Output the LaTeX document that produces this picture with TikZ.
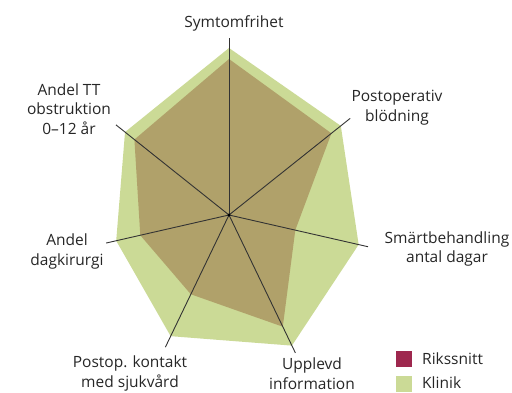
\documentclass[tikz,border=0pt]{standalone}
\usepackage{fontspec}
\setmainfont{Open Sans}
\usetikzlibrary{calc}
\begin{document}
\begin{tikzpicture}[x=1pt,y=1pt,
  axisline/.style={draw=black!80, line width=0.9pt},
  klinikfill/.style={fill=klinik},
  riksfill/.style={fill=riks},
  lbl/.style={align=center, text=black!85, font=\fontsize{15.5}{19.5}\selectfont, inner sep=0pt},
  legtext/.style={anchor=west, text=black!85, font=\fontsize{15.5}{19.5}\selectfont, inner sep=0pt},
  legbox/.style={minimum size=16pt, inner sep=0pt, anchor=south west}]
\definecolor{klinik}{RGB}{203,218,150}
\definecolor{riks}{RGB}{176,161,106}
\definecolor{rikssq}{RGB}{158,40,78}
\useasboundingbox (0,0) rectangle (512,393);
\clip (0,0) rectangle (512,393);
\coordinate (O) at (229,178);
% clinic polygon
\path[klinikfill] ($(O)+(90:167)$) -- ($(O)+(38.57:143)$) -- ($(O)+(-12.86:133)$)
  -- ($(O)+(-64.29:145)$) -- ($(O)+(-115.71:134.5)$) -- ($(O)+(-167.14:115.7)$)
  -- ($(O)+(141.43:133)$) -- cycle;
% national average polygon
\path[riksfill] ($(O)+(90:156)$) -- ($(O)+(38.57:131)$) -- ($(O)+(-12.86:68)$)
  -- ($(O)+(-64.29:124)$) -- ($(O)+(-115.71:88)$) -- ($(O)+(-167.14:91)$)
  -- ($(O)+(141.43:121)$) -- cycle;
% axes
\coordinate (a0) at ($(O)+(90:177)$);
\coordinate (a1) at ($(O)+(38.57:155)$);
\coordinate (a2) at ($(O)+(-12.86:142.6)$);
\coordinate (a3) at ($(O)+(-64.29:153)$);
\coordinate (a4) at ($(O)+(-115.71:146.7)$);
\coordinate (a5) at ($(O)+(-167.14:126)$);
\coordinate (a6) at ($(O)+(141.43:144.6)$);
\foreach \i in {0,...,6} \draw[axisline] (O) -- (a\i);
\fill[black] (O) circle (1.6pt);
% axis labels
\node[lbl] (l0) at (234,370) {Symtomfrihet};
\node[lbl] (l1) at (397,285.5) {Postoperativ\\blödning};
\node[lbl] (l2) at (447,144) {Smärtbehandling\\antal dagar};
\node[lbl] (l3) at (312,19.5) {Upplevd\\information};
\node[lbl] (l4) at (130,19.5) {Postop. kontakt\\med sjukvård};
\node[lbl] (l5) at (67,141.3) {Andel\\dagkirurgi};
\node[lbl] (l6) at (69,284) {Andel TT\\obstruktion\\0–12 år};
% legend
\node[legbox, fill=rikssq] (k1) at (396,26) {};
\node[legbox, fill=klinik] (k2) at (396,1) {};
\node[legtext] (t1) at (422,34) {Rikssnitt};
\node[legtext] (t2) at (422,10) {Klinik};
\end{tikzpicture}
\end{document}
